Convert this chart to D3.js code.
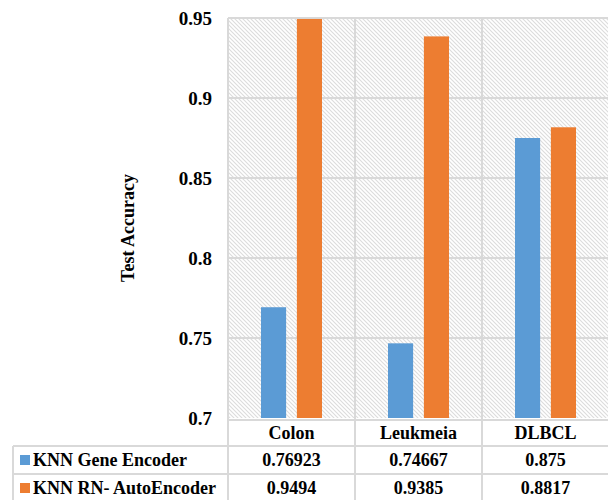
<!DOCTYPE html>
<html>
<head>
<meta charset="utf-8">
<script src="https://cdn.jsdelivr.net/npm/d3@7/dist/d3.min.js"></script>
<style>
  html, body { margin: 0; padding: 0; background: #fff; }
  svg text { font-family: "Times New Roman", "Liberation Serif", Times, serif; font-weight: 700; fill: #000; }
</style>
</head>
<body>
<svg id="chart" width="608" height="500"></svg>
<script>
// Test accuracy per dataset for two KNN pipelines
const categories = ["Colon", "Leukmeia", "DLBCL"];
const seriesNames = ["KNN Gene Encoder", "KNN RN- AutoEncoder"];
const geneEncoder = [0.76923, 0.74667, 0.875];
const rnAutoEncoder = [0.9494, 0.9385, 0.8817];
const yTicks = [0.7, 0.75, 0.8, 0.85, 0.9, 0.95];
const colors = ["#5b9bd5", "#ed7d31"];

const seriesValues = [geneEncoder, rnAutoEncoder];

const svg = d3.select("#chart");
const W = 608, H = 500;
const plot = { left: 228, right: 609, top: 18, bottom: 418 };
const gridColor = "#d9d9d9";
const serif = "'Times New Roman', 'Liberation Serif', serif";

const x0 = d3.scaleBand().domain(categories).range([plot.left, plot.right]);
const x1 = d3.scaleBand().domain(seriesNames).range([33, x0.bandwidth() - 33]).paddingInner(0.3);
const y = d3.scaleLinear().domain([0.7, 0.95]).range([plot.bottom, plot.top]);

// diagonal hatch fill for the plot area
const defs = svg.append("defs");
const pat = defs.append("pattern")
  .attr("id", "hatch")
  .attr("patternUnits", "userSpaceOnUse")
  .attr("width", 4).attr("height", 4);
pat.append("rect").attr("width", 4).attr("height", 4).attr("fill", "#fff");
pat.append("path")
  .attr("d", "M-1,-1 L5,5 M-1,3 L1,5 M3,-1 L5,1")
  .attr("stroke", "#dcdcdc").attr("stroke-width", 1.1);

svg.append("rect")
  .attr("x", plot.left).attr("y", plot.top)
  .attr("width", plot.right - plot.left).attr("height", plot.bottom - plot.top)
  .attr("fill", "url(#hatch)");

// horizontal gridlines
svg.append("g").selectAll("line")
  .data(yTicks.slice(1))
  .join("line")
  .attr("x1", plot.left).attr("x2", plot.right)
  .attr("y1", d => y(d)).attr("y2", d => y(d))
  .attr("stroke", gridColor).attr("stroke-width", 2);

// y tick labels
svg.append("g").selectAll("text")
  .data(yTicks)
  .join("text")
  .attr("font-family", serif)
  .attr("x", 212)
  .attr("y", d => y(d))
  .attr("dy", "0.35em")
  .attr("text-anchor", "end")
  .attr("font-size", 19)
  .text(d => d3.format("")(d));

// axis title
svg.append("text")
  .attr("font-family", serif)
  .attr("transform", "translate(134,228) rotate(-90)")
  .attr("text-anchor", "middle")
  .attr("font-size", 18)
  .text("Test Accuracy");

// bars
const groups = svg.append("g").selectAll("g")
  .data(categories)
  .join("g")
  .attr("transform", d => `translate(${x0(d)},0)`);

groups.selectAll("rect")
  .data((c, i) => seriesNames.map((s, k) => ({ s, v: seriesValues[k][i], k })))
  .join("rect")
  .attr("x", d => x1(d.s))
  .attr("width", x1.bandwidth())
  .attr("y", d => y(d.v))
  .attr("height", d => y(0.7) - y(d.v))
  .attr("fill", d => colors[d.k]);

// data table below the plot
const rowTop = [420, 446, 474, 502];
const tableLeft = 13;
const tbl = svg.append("g").attr("stroke", gridColor).attr("stroke-width", 2);

// header row top border (axis line) and row separators
tbl.append("line").attr("x1", plot.left).attr("x2", W).attr("y1", rowTop[0]).attr("y2", rowTop[0]);
[rowTop[1], rowTop[2], rowTop[3]].forEach(yy => {
  tbl.append("line").attr("x1", tableLeft).attr("x2", W).attr("y1", yy).attr("y2", yy);
});
// column separators extend through the plot
x0.domain().map(c => x0(c)).concat([plot.right]).forEach(xx => {
  tbl.append("line").attr("x1", xx).attr("x2", xx).attr("y1", plot.top).attr("y2", H);
});
tbl.append("line").attr("x1", tableLeft).attr("x2", tableLeft).attr("y1", rowTop[1]).attr("y2", H);

// category header labels
svg.append("g").selectAll("text")
  .data(categories)
  .join("text")
  .attr("font-family", serif)
  .attr("x", d => x0(d) + x0.bandwidth() / 2)
  .attr("y", 439)
  .attr("text-anchor", "middle")
  .attr("font-size", 18)
  .text(d => d);

// series rows: legend key, name and values
const rowBase = [466, 494];
seriesNames.forEach((name, k) => {
  svg.append("rect")
    .attr("x", 20).attr("y", rowBase[k] - 11)
    .attr("width", 10).attr("height", 10)
    .attr("fill", colors[k]);
  svg.append("text")
    .attr("font-family", serif)
    .attr("x", 33).attr("y", rowBase[k])
    .attr("font-size", 18)
    .text(name);
  svg.append("g").selectAll("text")
    .data(seriesValues[k])
    .join("text")
    .attr("font-family", serif)
    .attr("x", (d, i) => x0(categories[i]) + x0.bandwidth() / 2)
    .attr("y", rowBase[k])
    .attr("text-anchor", "middle")
    .attr("font-size", 18)
    .text(d => String(d));
});
</script>
</body>
</html>
